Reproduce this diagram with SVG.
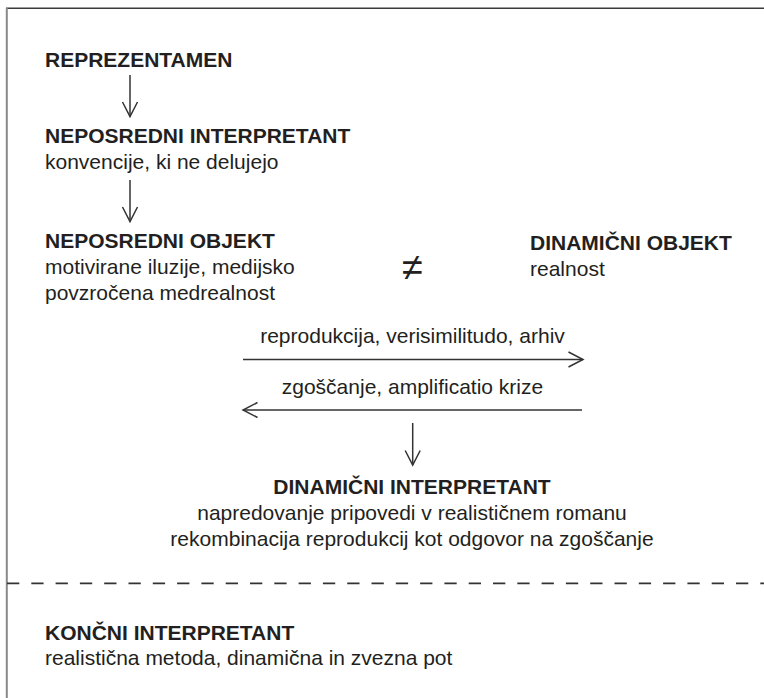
<svg xmlns="http://www.w3.org/2000/svg" width="764" height="698" viewBox="0 0 764 698">
<style>
  text { font-family: "Liberation Sans", Arial, sans-serif; fill: #231f20; }
  .b { font-weight: bold; font-size: 21px; }
  .r { font-size: 21px; }
  .c { text-anchor: middle; }
  .ln { stroke: #333; stroke-width: 1.5; fill: none; }
</style>
<defs>
  <marker id="arr" viewBox="-16 -9 18 18" refX="0" refY="0" markerWidth="18" markerHeight="18" markerUnits="userSpaceOnUse" orient="auto">
    <path d="M-14.5,-7.5 L0,0 L-14.5,7.5" fill="none" stroke="#333" stroke-width="1.5"/>
  </marker>
</defs>
<rect width="764" height="698" fill="#ffffff"/>
<g id="frame">
  <line x1="6" y1="8.2" x2="764" y2="8.2" stroke="#3a3a3a" stroke-width="1.6"/>
  <line x1="6.8" y1="8" x2="6.8" y2="698" stroke="#8a8a8a" stroke-width="2"/>
  <line x1="7" y1="583.3" x2="764" y2="583.3" stroke="#333" stroke-width="1.7" stroke-dasharray="12.3 12"/>
</g>
<g id="connectors">
  <line class="ln" x1="130" y1="75" x2="130" y2="116.5" marker-end="url(#arr)"/>
  <line class="ln" x1="130" y1="180" x2="130" y2="221.5" marker-end="url(#arr)"/>
  <line class="ln" x1="243" y1="359.5" x2="583" y2="359.5" marker-end="url(#arr)"/>
  <line class="ln" x1="582" y1="410" x2="243" y2="410" marker-end="url(#arr)"/>
  <line class="ln" x1="412.7" y1="423" x2="412.7" y2="465" marker-end="url(#arr)"/>
  <text class="r c" x="412.5" y="343">reprodukcija, verisimilitudo, arhiv</text>
  <text class="r c" x="412.5" y="394">zgoščanje, amplificatio krize</text>
</g>
<g id="reprezentamen">
  <text class="b" x="45" y="67">REPREZENTAMEN</text>
</g>
<g id="neposredni-interpretant">
  <text class="b" x="45" y="143">NEPOSREDNI INTERPRETANT</text>
  <text class="r" x="45" y="168.5">konvencije, ki ne delujejo</text>
</g>
<g id="neposredni-objekt">
  <text class="b" x="45" y="247.5">NEPOSREDNI OBJEKT</text>
  <text class="r" x="45" y="273.5">motivirane iluzije, medijsko</text>
  <text class="r" x="45" y="299.5">povzročena medrealnost</text>
</g>
<g id="neq">
  <text class="c" x="412.5" y="280" style="font-size:38px">≠</text>
</g>
<g id="dinamicni-objekt">
  <text class="b" x="530" y="250">DINAMIČNI OBJEKT</text>
  <text class="r" x="530" y="276">realnost</text>
</g>
<g id="dinamicni-interpretant">
  <text class="b c" x="412" y="494">DINAMIČNI INTERPRETANT</text>
  <text class="r c" x="412" y="519.5">napredovanje pripovedi v realističnem romanu</text>
  <text class="r c" x="412" y="545.5">rekombinacija reprodukcij kot odgovor na zgoščanje</text>
</g>
<g id="koncni-interpretant">
  <text class="b" x="45" y="639.5">KONČNI INTERPRETANT</text>
  <text class="r" x="45" y="664.5">realistična metoda, dinamična in zvezna pot</text>
</g>
</svg>
